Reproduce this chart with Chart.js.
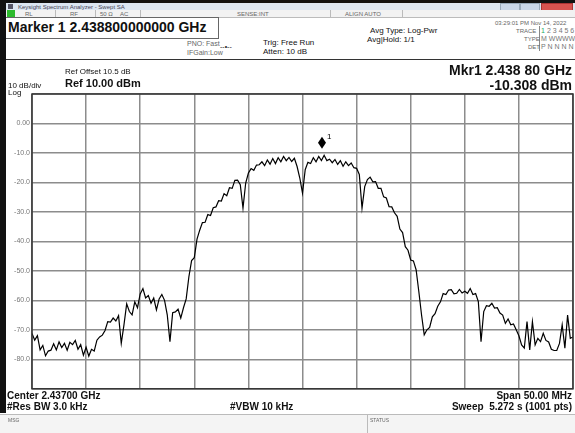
<!DOCTYPE html>
<html>
<head>
<meta charset="utf-8">
<title>Swept SA</title>
<script src="https://cdn.jsdelivr.net/npm/chart.js@4"></script>
<style>
  html, body { margin: 0; padding: 0; }
  body { width: 575px; height: 433px; position: relative; overflow: hidden; background: #fff;
         font-family: "Liberation Sans", Arial, sans-serif; color: #111; }
  .t { position: absolute; white-space: nowrap; line-height: 1; z-index: 2; }
  .b { font-weight: bold; }
  .tiny { font-size: 6px; color: #666; }
  .sm { font-size: 8px; }
  .bar { position: absolute; z-index: 1; }
  #wrap { position: absolute; left: 6px; top: 60px; width: 569px; height: 335px; z-index: 1; }
</style>
</head>
<body>
<!-- window frame / title -->
<div class="bar" style="left:0;top:0;width:575px;height:3px;background:#111"></div>
<div class="bar" style="left:0;top:0;width:6px;height:413px;background:#111"></div>
<div class="bar" style="left:6px;top:3px;width:569px;height:7px;background:#dce6f2"></div>
<div class="bar" style="left:8px;top:4px;width:5px;height:5px;background:#556"></div>
<div class="t tiny" style="left:18px;top:4px;font-size:6px;color:#445">Keysight Spectrum Analyzer - Swept SA</div>
<div class="bar" style="left:500px;top:3px;width:18px;height:7px;background:#c9d6e8;border:1px solid #9ab"></div>
<div class="bar" style="left:520px;top:3px;width:18px;height:7px;background:#c9d6e8;border:1px solid #9ab"></div>
<div class="bar" style="left:541px;top:3px;width:30px;height:7px;background:#d9534f;border:1px solid #a33"></div>
<div class="bar" style="left:6px;top:10px;width:569px;height:7px;background:#f2f2f2;border-bottom:1px solid #bbb"></div>
<div class="bar" style="left:7px;top:10px;width:8px;height:7px;background:#2dbb2d"></div>
<div class="t tiny" style="left:25px;top:11px">RL</div>
<div class="t tiny" style="left:70px;top:11px">RF</div>
<div class="t tiny" style="left:100px;top:11px">50 Ω</div>
<div class="t tiny" style="left:120px;top:11px">AC</div>
<div class="t tiny" style="left:237px;top:11px">SENSE:INT</div>
<div class="t tiny" style="left:345px;top:11px">ALIGN AUTO</div>
<div class="bar" style="left:55px;top:10px;width:1px;height:7px;background:#bbb"></div>
<div class="bar" style="left:95px;top:10px;width:1px;height:7px;background:#bbb"></div>
<div class="bar" style="left:140px;top:10px;width:1px;height:7px;background:#bbb"></div>
<div class="bar" style="left:330px;top:10px;width:1px;height:7px;background:#bbb"></div>
<div class="bar" style="left:402px;top:10px;width:1px;height:7px;background:#bbb"></div>

<!-- header -->
<div class="bar" style="left:6px;top:17px;width:212px;height:20px;border:1px solid #666;border-left:none;background:#fff"></div>
<div class="t b" style="left:8px;top:20px;font-size:14px">Marker 1 2.438800000000 GHz</div>
<div class="t tiny" style="left:187px;top:40px;font-size:7px">PNO: Fast</div>
<div class="t tiny" style="left:187px;top:49px;font-size:7px">IFGain:Low</div>
<div class="t tiny" style="left:220px;top:43px;font-size:7px;color:#222">--•--</div>
<div class="t sm" style="left:263px;top:39px">Trig: Free Run</div>
<div class="t sm" style="left:263px;top:48px">Atten: 10 dB</div>
<div class="t sm" style="left:370px;top:27px">Avg Type: Log-Pwr</div>
<div class="t sm" style="left:367px;top:36px">Avg|Hold: 1/1</div>
<div class="t tiny" style="left:495px;top:20px">03:29:01 PM Nov 14, 2022</div>
<div class="t tiny" style="left:516px;top:28px">TRACE</div>
<div class="t tiny" style="left:524px;top:36px">TYPE</div>
<div class="t tiny" style="left:528px;top:44px">DET</div>
<div class="t" style="left:541px;top:27px;font-size:7px;color:#2a6">1</div>
<div class="t" style="left:547px;top:27px;font-size:7px;color:#777">2 3 4 5 6</div>
<div class="t" style="left:541px;top:35px;font-size:7px;color:#777">M WWWWW</div>
<div class="t" style="left:541px;top:43px;font-size:7px;color:#777">P N N N N N</div>
<div class="bar" style="left:539px;top:26px;width:1px;height:25px;background:#888"></div>
<div class="bar" style="left:6px;top:59px;width:569px;height:1px;background:#333"></div>
<div class="t b" style="right:3px;top:63px;font-size:14px">Mkr1 2.438 80 GHz</div>
<div class="t b" style="right:3px;top:78px;font-size:14px">-10.308 dBm</div>
<div class="t sm" style="left:65px;top:68px">Ref Offset 10.5 dB</div>
<div class="t b" style="left:65px;top:78px;font-size:11px">Ref 10.00 dBm</div>
<div class="t sm" style="left:8px;top:82px">10 dB/div</div>
<div class="t sm" style="left:8px;top:89px">Log</div>

<div id="wrap"><canvas id="saChart"></canvas></div>

<!-- footer -->
<div class="t b" style="left:7px;top:391px;font-size:10px">Center 2.43700 GHz</div>
<div class="t b" style="left:7px;top:402px;font-size:10px">#Res BW 3.0 kHz</div>
<div class="t b" style="left:230px;top:402px;font-size:10px">#VBW 10 kHz</div>
<div class="t b" style="right:3px;top:391px;font-size:10px">Span 50.00 MHz</div>
<div class="t b" style="right:3px;top:402px;font-size:10px">Sweep&nbsp; 5.272 s (1001 pts)</div>
<div class="bar" style="left:0;top:414px;width:575px;height:19px;background:#f4f4f4;border-top:1px solid #bbb"></div>
<div class="bar" style="left:367px;top:415px;width:1px;height:18px;background:#bbb"></div>
<div class="t tiny" style="left:8px;top:418px;font-size:5px">MSG</div>
<div class="t tiny" style="left:370px;top:418px;font-size:5px">STATUS</div>

<script>
// sweep: center 2437 MHz, span 50 MHz
const startMHz = 2412;
const stopMHz = 2462;

// trace 1 (dBm), 0.25 MHz apart
const levelDbm = [
  -71.2, -73.5, -72.0, -76.8, -75.3, -78.8, -77.2, -76.9, -74.7, -76.8,
  -74.1, -76.0, -74.6, -76.9, -74.2, -75.0, -73.6, -76.6, -75.0, -78.6,
  -75.9, -78.9, -76.6, -77.2, -73.5, -72.4, -71.8, -70.2, -67.2, -67.4,
  -66.0, -67.0, -65.2, -74.6, -68.3, -61.2, -63.8, -64.9, -60.5, -62.5,
  -57.8, -56.0, -59.2, -58.4, -61.0, -59.2, -63.2, -59.5, -58.0, -60.0,
  -64.9, -74.0, -64.2, -63.9, -63.0, -66.0, -62.5, -59.5, -52.0, -46.5,
  -45.5, -39.2, -36.2, -33.6, -33.5, -30.9, -31.2, -28.6, -28.3, -26.2,
  -26.3, -23.8, -24.5, -21.8, -22.0, -19.3, -19.2, -20.8, -28.7, -20.2,
  -16.8, -15.3, -15.9, -14.1, -14.0, -13.0, -14.3, -12.4, -13.8, -11.9,
  -13.6, -11.6, -13.0, -11.2, -12.6, -11.5, -12.9, -11.8, -14.6, -18.5,
  -23.6, -15.7, -13.2, -13.6, -11.6, -13.0, -11.2, -12.6, -10.8, -12.6,
  -12.1, -13.3, -12.2, -13.9, -12.6, -14.5, -13.0, -14.3, -13.4, -15.0,
  -15.2, -17.3, -28.7, -21.4, -19.0, -18.2, -19.8, -19.7, -22.0, -22.0,
  -24.9, -25.3, -28.2, -28.3, -30.3, -31.5, -35.8, -37.0, -41.8, -43.0,
  -46.3, -46.6, -49.6, -57.0, -64.9, -71.7, -70.0, -69.2, -65.6, -64.5,
  -62.0, -60.5, -57.7, -58.0, -56.5, -56.4, -57.8, -57.6, -56.3, -57.5,
  -56.9, -57.6, -56.0, -58.0, -57.7, -60.4, -74.0, -63.8, -61.8, -62.0,
  -61.0, -62.6, -62.5, -64.3, -65.0, -67.8, -66.3, -68.3, -68.0, -70.0,
  -72.0, -75.1, -76.2, -67.2, -76.8, -67.2, -75.1, -72.9, -74.0, -71.2,
  -73.6, -74.1, -76.6, -77.0, -77.0, -74.6, -68.3, -76.2, -65.0, -72.9, -72.4
];

// marker 1
const markerMHz = 2438.8;
const markerDbm = -10.308;

// y axis (10 dB/div, ref 10 dBm)
const yTicks = [10, 0, -10, -20, -30, -40, -50, -60, -70, -80, -90];
const yTickText = ['', '0.00', '-10.0', '-20.0', '-30.0', '-40.0', '-50.0', '-60.0', '-70.0', '-80.0', ''];

const step = (stopMHz - startMHz) / (levelDbm.length - 1);
const tracePts = levelDbm.map((v, i) => ({ x: startMHz + i * step, y: v }));

// diamond marker drawn just above the trace point, plus frame
const markerPlugin = {
  id: 'markerPlugin',
  afterDatasetsDraw(chart) {
    const { ctx, chartArea, scales } = chart;
    ctx.save();
    ctx.strokeStyle = '#333';
    ctx.lineWidth = 1.5;
    ctx.strokeRect(chartArea.left, chartArea.top, chartArea.right - chartArea.left, chartArea.bottom - chartArea.top);
    const x = scales.x.getPixelForValue(markerMHz);
    const y = scales.y.getPixelForValue(markerDbm) - 11;
    ctx.fillStyle = '#000';
    ctx.beginPath();
    ctx.moveTo(x, y - 6);
    ctx.lineTo(x + 4, y);
    ctx.lineTo(x, y + 6);
    ctx.lineTo(x - 4, y);
    ctx.closePath();
    ctx.fill();
    ctx.font = '8px "Liberation Sans", Arial, sans-serif';
    ctx.fillText('1', x + 5, y - 4);
    ctx.restore();
  }
};

var ctx = document.getElementById('saChart');
var saChart = new Chart(ctx, {
  type: 'line',
  data: {
    datasets: [{
      label: 'Trace 1',
      data: tracePts,
      borderColor: '#000',
      borderWidth: 1.2,
      pointRadius: 0,
      tension: 0,
      fill: false
    }]
  },
  options: {
    responsive: true,
    maintainAspectRatio: false,
    animation: false,
    events: [],
    layout: { padding: { top: 34, right: 2, bottom: 6, left: 0 } },
    plugins: { legend: { display: false }, tooltip: { enabled: false } },
    scales: {
      x: {
        type: 'linear',
        min: startMHz,
        max: stopMHz,
        ticks: { display: false, stepSize: 5 },
        grid: { color: '#8c8c8c', lineWidth: 1.5, drawTicks: false },
        border: { display: false },
        afterFit(scale) { scale.height = 0; }
      },
      y: {
        min: -90,
        max: 10,
        afterBuildTicks(scale) { scale.ticks = yTicks.map(v => ({ value: v })); },
        ticks: {
          padding: 2,
          color: '#777',
          font: { size: 7, family: '"Liberation Sans", Arial, sans-serif' },
          callback: (v) => yTickText[yTicks.indexOf(v)]
        },
        grid: { color: '#8c8c8c', lineWidth: 1.5, drawTicks: false },
        border: { display: false },
        afterFit(scale) { scale.width = 26; }
      }
    }
  },
  plugins: [markerPlugin]
});
</script>
</body>
</html>
